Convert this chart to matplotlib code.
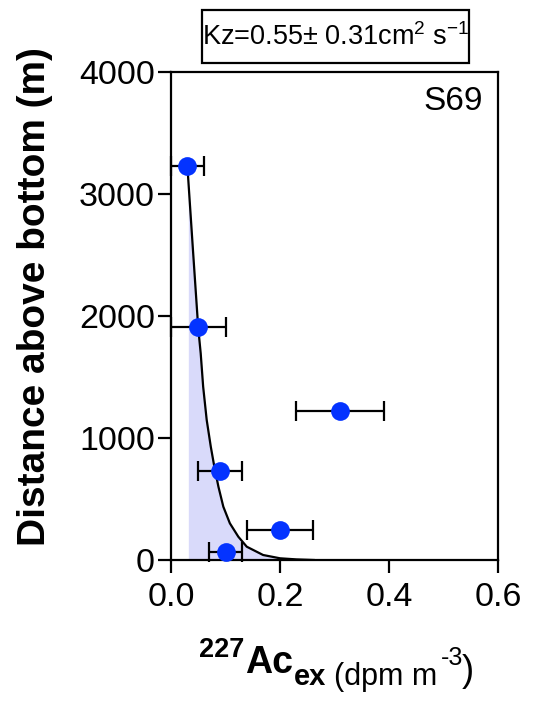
import numpy as np
import matplotlib
matplotlib.use("Agg")
import matplotlib.pyplot as plt
from matplotlib.patches import Rectangle

plt.rcParams['font.family'] = ['Liberation Sans', 'DejaVu Sans']
plt.rcParams['mathtext.fontset'] = 'custom'
plt.rcParams['mathtext.rm'] = 'Liberation Sans'
plt.rcParams['mathtext.it'] = 'Liberation Sans:italic'
plt.rcParams['mathtext.bf'] = 'Liberation Sans:bold'

# measured 227Ac_ex profile, station S69
height = [3230, 1912, 1221, 730, 246, 68]
ac_ex = [0.030, 0.050, 0.310, 0.090, 0.200, 0.100]
ac_err = [0.030, 0.050, 0.080, 0.040, 0.060, 0.030]

# fitted diffusion curve
fit_z = [0, 5, 14, 41, 109, 191, 301, 437, 601, 765, 929, 1148, 1421, 1694, 1899,
         2560, 3232]
fit_ac = [0.262, 0.230, 0.200, 0.169, 0.139, 0.1235, 0.108, 0.096, 0.087, 0.0795,
          0.073, 0.0655, 0.059, 0.0545, 0.050, 0.040, 0.030]
background = 0.0318

xticks = [0.0, 0.2, 0.4, 0.6]
yticks = [0, 1000, 2000, 3000, 4000]

W, H = 534, 702
fig = plt.figure(figsize=(W / 100, H / 100), dpi=100)

def fx(px):
    return px / W

def fy(py):
    return 1 - py / H

ax = fig.add_axes([fx(171), fy(560), fx(498) - fx(171), fy(72) - fy(560)])

ax.fill_betweenx(fit_z, background, fit_ac, color='#d9dafa', lw=0, zorder=1)
ax.plot(fit_ac, fit_z, color='black', lw=1.6, zorder=2)
ax.errorbar(ac_ex, height, xerr=ac_err, fmt='none', ecolor='black', elinewidth=1.6,
            capsize=7, capthick=1.6, zorder=3, clip_on=False)
ax.plot(ac_ex, height, 'o', color='#0433ff', ms=13.5, mec='none', zorder=4, clip_on=False)

ax.set_xlim(0, 0.6)
ax.set_ylim(0, 4000)
ax.set_xticks(xticks)
ax.set_xticklabels(["%.1f" % t for t in xticks])
ax.set_yticks(yticks)
for s in ax.spines.values():
    s.set_linewidth(1.6)
ax.tick_params(axis='both', direction='out', length=9.5, width=1.6, labelsize=24.5)
ax.tick_params(axis='y', pad=2)
ax.tick_params(axis='x', pad=6)

ax.text(0.955, (560 - 110) / (560 - 72), "S69", transform=ax.transAxes,
        ha='right', va='baseline', fontsize=24)

# y label
fig.text(fx(35), fy(297), "Distance above bottom (m)", rotation=90, ha='center',
         va='center', fontsize=28, fontweight='bold')

# x label pieces
fig.text(fx(199), fy(657), "227", fontsize=19.5, fontweight='bold', va='baseline')
fig.text(fx(245), fy(673), "Ac", fontsize=27, fontweight='bold', va='baseline')
fig.text(fx(294), fy(685), "ex", fontsize=21, fontweight='bold', va='baseline')
fig.text(fx(334), fy(685), "(dpm m", fontsize=22, va='baseline')
fig.text(fx(441), fy(665), "-3", fontsize=18, va='baseline')
fig.text(fx(462), fy(681), ")", fontsize=26, va='baseline')

# Kz box
fig.patches.append(Rectangle((fx(202), fy(63)), fx(469) - fx(202), fy(10) - fy(63),
                             transform=fig.transFigure, fill=False, lw=1.6,
                             edgecolor='black'))
fig.text(fx(336), fy(45), r"Kz=0.55± 0.31cm$^{2}$ s$^{-1}$", ha='center',
         va='baseline', fontsize=19.5)

fig.savefig("out.png", dpi=100)
